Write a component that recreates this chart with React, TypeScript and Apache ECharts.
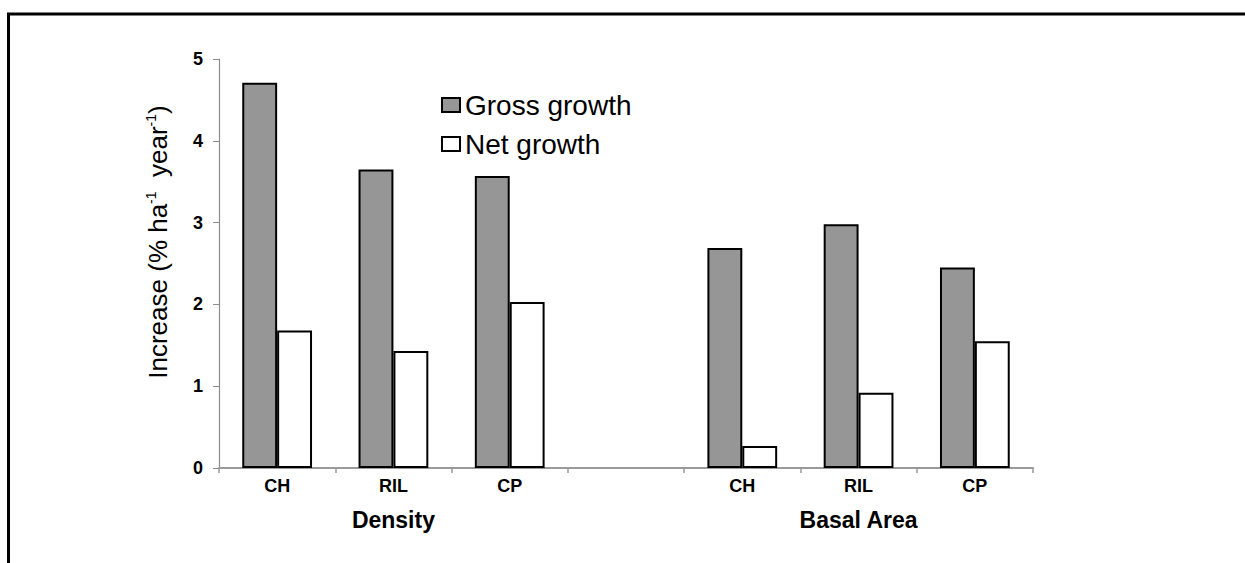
import React, { useEffect, useRef } from "react";
import * as echarts from "echarts";

const categories = ["CH", "RIL", "CP", "", "CH", "RIL", "CP"];
const groupLabels = ["", "Density", "", "", "", "Basal Area", ""];
const grossGrowth = [4.71, 3.65, 3.57, null, 2.69, 2.98, 2.45];
const netGrowth = [1.68, 1.43, 2.03, null, 0.27, 0.92, 1.55];
const seriesNames = ["Gross growth", "Net growth"];
const yTicks = { min: 0, max: 5, interval: 1 };

const FONT = "'Liberation Sans', Arial, sans-serif";

export default function App() {
  const ref = useRef<HTMLDivElement>(null);
  useEffect(() => {
    if (!ref.current) return;
    const chart = echarts.init(ref.current, undefined, { renderer: "svg" });
    chart.setOption({
      animation: false,
      backgroundColor: "#ffffff",
      textStyle: { fontFamily: FONT },
      grid: { left: 219, right: 212, top: 59, bottom: 95, containLabel: false },
      legend: {
        data: seriesNames,
        orient: "vertical",
        left: 436,
        top: 85,
        itemWidth: 18,
        itemHeight: 14,
        itemGap: 9,
        icon: "rect",
        textStyle: { fontSize: 28, color: "#000", fontFamily: FONT, lineHeight: 30 },
      },
      xAxis: [
        {
          type: "category",
          data: categories,
          position: "bottom",
          axisLine: { show: true, lineStyle: { color: "#9a9a9a", width: 2 } },
          axisTick: { show: true, length: 5, lineStyle: { color: "#9a9a9a", width: 1.5 } },
          axisLabel: { color: "#000", fontSize: 18, fontWeight: "bold", margin: 9, fontFamily: FONT },
          splitLine: { show: false },
        },
        {
          type: "category",
          data: groupLabels,
          position: "bottom",
          offset: 32,
          axisLine: { show: false },
          axisTick: { show: false },
          axisLabel: { color: "#000", fontSize: 23, fontWeight: "bold", margin: 8, fontFamily: FONT, interval: 0 },
          splitLine: { show: false },
        },
      ],
      yAxis: {
        type: "value",
        min: yTicks.min,
        max: yTicks.max,
        interval: yTicks.interval,
        axisLine: { show: true, lineStyle: { color: "#8c8c8c", width: 1.2 } },
        axisTick: { show: true, length: 6, lineStyle: { color: "#8c8c8c" } },
        axisLabel: { color: "#000", fontSize: 18, fontWeight: "bold", margin: 16, fontFamily: FONT },
        splitLine: { show: false },
      },
      series: [
        {
          name: seriesNames[0],
          type: "bar",
          xAxisIndex: 0,
          data: grossGrowth,
          barGap: "0%",
          barCategoryGap: "40%",
          itemStyle: { color: "#969696", borderColor: "#000", borderWidth: 2 },
        },
        {
          name: seriesNames[1],
          type: "bar",
          xAxisIndex: 0,
          data: netGrowth,
          barGap: "0%",
          barCategoryGap: "40%",
          itemStyle: { color: "#ffffff", borderColor: "#000", borderWidth: 2 },
        },
      ],
      graphic: [
        {
          type: "rect",
          shape: { x: 8.5, y: 14, width: 1300, height: 600 },
          style: { fill: "none", stroke: "#000", lineWidth: 3 },
          silent: true,
        },
        {
          type: "text",
          x: 158,
          y: 242,
          rotation: Math.PI / 2,
          style: {
            text: "{b|Increase (% ha}{s|-1}{b|  year}{s|-1}{b|)}",
            align: "center",
            verticalAlign: "middle",
            fill: "#000",
            fontFamily: FONT,
            rich: {
              b: { fontSize: 26, lineHeight: 32, fontFamily: FONT, fill: "#000", verticalAlign: "middle" },
              s: { fontSize: 14, lineHeight: 32, fontFamily: FONT, fill: "#000", verticalAlign: "top", padding: [2, 0, 0, 0] },
            },
          },
        },
      ],
    });
    return () => chart.dispose();
  }, []);
  return (
    <div
      ref={ref}
      style={{ position: "fixed", left: 0, top: 0, width: 1245, height: 563, background: "#fff" }}
    />
  );
}
